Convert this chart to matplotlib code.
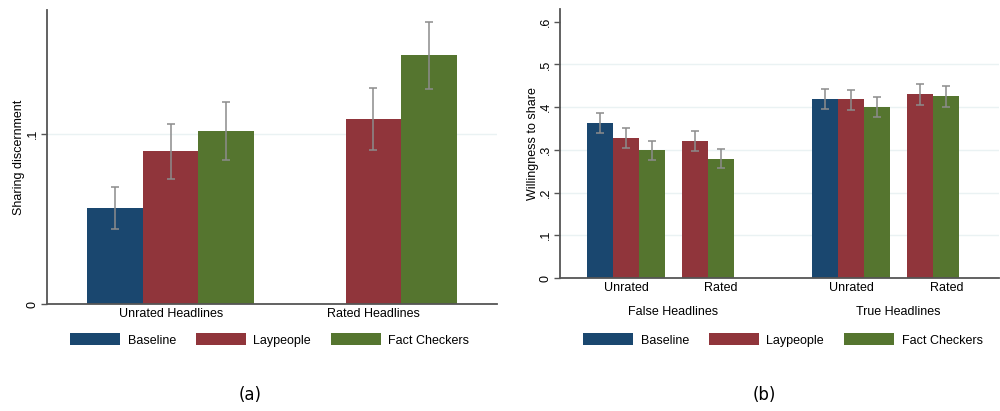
import matplotlib
matplotlib.use("Agg")
import numpy as np
from matplotlib import pyplot as plt
from matplotlib.patches import Patch

# Stata s2color palette
colori = {"Baseline": "#1a476f", "Laypeople": "#90353b", "Fact Checkers": "#55752f"}
serie = ["Baseline", "Laypeople", "Fact Checkers"]

# (a) Sharing discernment: Unrated / Rated headlines
a_gruppi = ["Unrated Headlines", "Rated Headlines"]
a_valori = {
    "Baseline": [0.0565, None],
    "Laypeople": [0.090, 0.109],
    "Fact Checkers": [0.102, 0.1465],
}
a_basso = {
    "Baseline": [0.044, None],
    "Laypeople": [0.0735, 0.0906],
    "Fact Checkers": [0.0847, 0.1265],
}
a_alto = {
    "Baseline": [0.069, None],
    "Laypeople": [0.106, 0.127],
    "Fact Checkers": [0.119, 0.166],
}

# (b) Willingness to share: False / True x Unrated / Rated
b_gruppi = ["False Headlines", "True Headlines"]
b_sottogruppi = ["Unrated", "Rated"]
b_valori = {
    "Baseline": [0.363, None, 0.419, None],
    "Laypeople": [0.328, 0.321, 0.419, 0.430],
    "Fact Checkers": [0.299, 0.279, 0.400, 0.4255],
}
b_basso = {
    "Baseline": [0.339, None, 0.395, None],
    "Laypeople": [0.3045, 0.298, 0.393, 0.406],
    "Fact Checkers": [0.276, 0.257, 0.376, 0.400],
}
b_alto = {
    "Baseline": [0.387, None, 0.443, None],
    "Laypeople": [0.352, 0.345, 0.441, 0.454],
    "Fact Checkers": [0.3215, 0.302, 0.4246, 0.450],
}

plt.rcParams["font.family"] = ["Liberation Sans", "DejaVu Sans"]
fig = plt.figure(figsize=(10, 4.11), dpi=100)

ax_a = fig.add_axes([0.047, 0.2603, 0.45, 0.7153])
ax_b = fig.add_axes([0.5603, 0.3236, 0.4387, 0.6538])

grid_col = "#eaf2f3"
spine_col = "#555555"
err_col = "#8c8c8c"


def stile_assi(ax, ymax, ticks, etichette):
    ax.set_ylim(0, ymax)
    ax.set_yticks(ticks)
    ax.set_yticklabels(etichette, rotation=90, va="center", fontsize=9)
    for t in ticks:
        if t > 0 and t < ymax - 0.05 * ymax:
            ax.axhline(t, color=grid_col, lw=1, zorder=0)
    for s in ["top", "right"]:
        ax.spines[s].set_visible(False)
    for s in ["left", "bottom"]:
        ax.spines[s].set_color(spine_col)
        ax.spines[s].set_linewidth(1.3)
    ax.tick_params(axis="y", length=4, width=1, color=spine_col, pad=2)
    ax.tick_params(axis="x", length=0, pad=3)


def disegna(ax, pos, valori, basso, alto):
    for s in serie:
        for i, v in enumerate(valori[s]):
            if v is None:
                continue
            x = pos[s][i]
            ax.bar(x, v, width=1.0, color=colori[s], zorder=2)
            ax.errorbar(x, v, yerr=[[v - basso[s][i]], [alto[s][i] - v]],
                        fmt="none", ecolor=err_col, elinewidth=1.1,
                        capsize=2.6, capthick=1.1, zorder=3)


# ---- pannello (a)
pos_a = {
    "Baseline": [0, 3.64],
    "Laypeople": [1, 4.64],
    "Fact Checkers": [2, 5.64],
}
disegna(ax_a, pos_a, a_valori, a_basso, a_alto)
ax_a.set_xlim(-1.22, 6.86)
ax_a.set_xticks([1, 4.64])
ax_a.set_xticklabels(a_gruppi, fontsize=9)
stile_assi(ax_a, 0.173, [0, 0.1], ["0", ".1"])
ax_a.set_ylabel("Sharing discernment", fontsize=9, labelpad=1)

# ---- pannello (b)
pos_b = {
    "Baseline": [0, 3.65, 8.654, 12.32 - 1],
    "Laypeople": [1, 3.665, 9.654, 12.32],
    "Fact Checkers": [2, 4.665, 10.654, 13.32],
}
disegna(ax_b, pos_b, b_valori, b_basso, b_alto)
ax_b.set_xlim(-1.525, 15.35)
ax_b.set_xticks([1, 4.65, 9.66, 13.33])
ax_b.set_xticklabels(b_sottogruppi * 2, fontsize=9)
for xg, nome in zip([2.83, 11.48], b_gruppi):
    ax_b.text(xg, -0.125, nome, transform=ax_b.get_xaxis_transform(),
              ha="center", va="center", fontsize=9)
stile_assi(ax_b, 0.629, [0, 0.1, 0.2, 0.3, 0.4, 0.5, 0.6],
           ["0", ".1", ".2", ".3", ".4", ".5", ".6"])
ax_b.set_ylabel("Willingness to share", fontsize=9, labelpad=1)

# ---- legende
maniglie = [Patch(facecolor=colori[s], edgecolor="none") for s in serie]
for xc in [0.2697, 0.7829]:
    fig.legend(maniglie, serie, loc="center", bbox_to_anchor=(xc, 0.1727),
               ncol=3, frameon=False, fontsize=9, handlelength=4.0,
               handleheight=1.05, handletextpad=0.6, columnspacing=1.6)

fig.text(0.250, 1 - 395 / 411, "(a)", ha="center", va="center",
         fontsize=12, family="DejaVu Sans")
fig.text(0.764, 1 - 395 / 411, "(b)", ha="center", va="center",
         fontsize=12, family="DejaVu Sans")

fig.savefig("out.png", dpi=100, facecolor="white")
